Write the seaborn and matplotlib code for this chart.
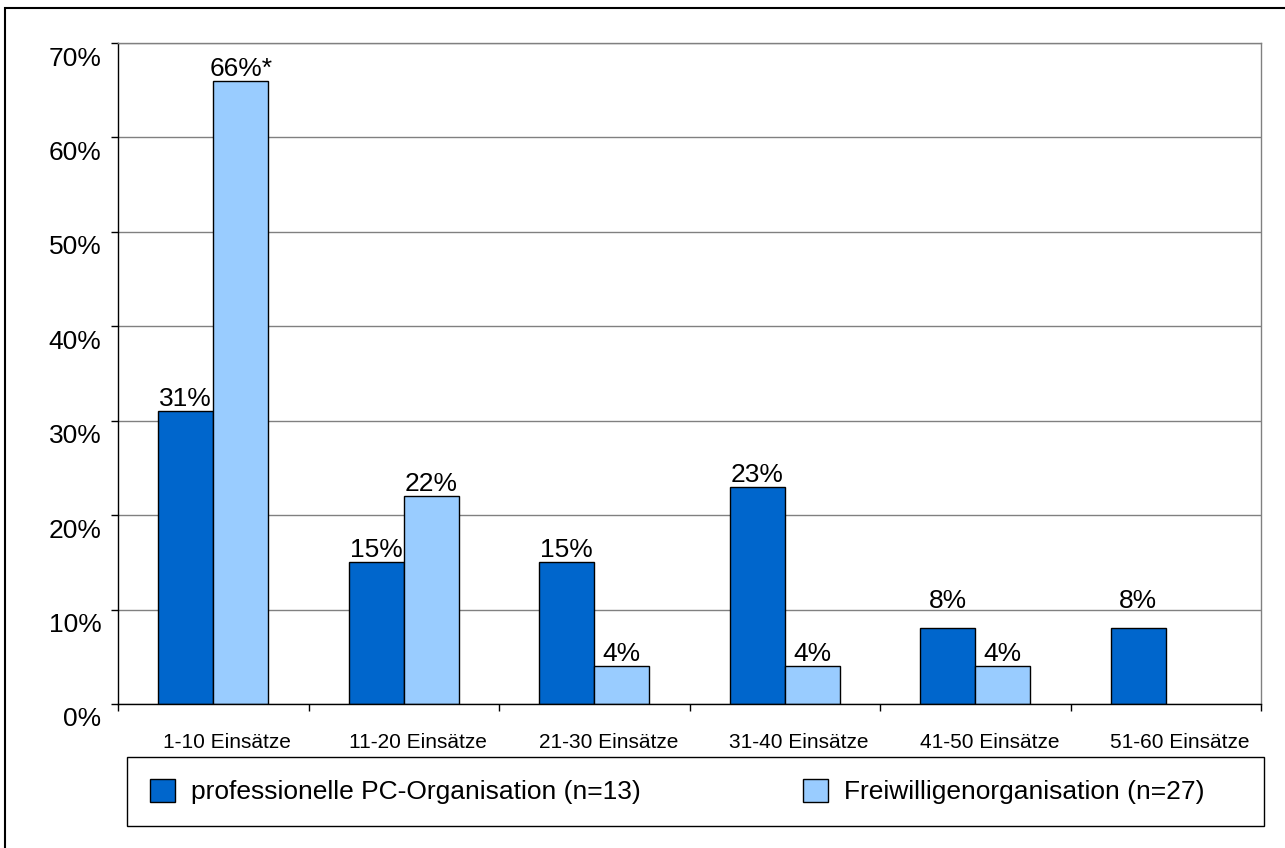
import matplotlib
matplotlib.use("Agg")
import matplotlib.pyplot as plt
import matplotlib.transforms as mtransforms
from matplotlib.patches import Rectangle
from matplotlib.ticker import FixedLocator, FuncFormatter
import pandas as pd
import seaborn as sns

# --- data -------------------------------------------------------------
categories = ["1-10 Einsätze", "11-20 Einsätze", "21-30 Einsätze",
              "31-40 Einsätze", "41-50 Einsätze", "51-60 Einsätze"]
series_names = ["professionelle PC-Organisation (n=13)",
                "Freiwilligenorganisation (n=27)"]
professionelle = [31, 15, 15, 23, 8, 8]
freiwillige = [66, 22, 4, 4, 4, None]
freiwillige_notes = ["*", "", "", "", "", ""]
professionelle_notes = ["", "", "", "", "", ""]
y_ticks = [0, 10, 20, 30, 40, 50, 60, 70]

# --- styling ----------------------------------------------------------
colors = ["#0066CC", "#99CCFF"]
label_pad_pt = 3.5
# extra lift for labels that would otherwise run into a grid line
label_lift_pt = {(0, 4): 11, (0, 5): 11}

W, H = 1285, 848

rows = []
for name, values in zip(series_names, [professionelle, freiwillige]):
    for cat, v in zip(categories, values):
        if v is not None:
            rows.append({"Kategorie": cat, "Anteil": v, "Organisation": name})
df = pd.DataFrame(rows)

sns.set_theme(style="white")
plt.rcParams["font.family"] = ["Liberation Sans", "DejaVu Sans"]
plt.rcParams["text.color"] = "black"

fig = plt.figure(figsize=(W / 100, H / 100), dpi=100)
ax = fig.add_axes([118 / W, 1 - 704 / H, 1143 / W, 661 / H])

sns.barplot(data=df, x="Kategorie", y="Anteil", hue="Organisation",
            order=categories, hue_order=series_names, palette=colors,
            saturation=1, width=0.577, gap=0, errorbar=None,
            edgecolor="black", linewidth=1, ax=ax)

ax.set_xlim(-0.5, len(categories) - 0.5)
ax.set_ylim(0, 70)
ax.set_xlabel("")
ax.set_ylabel("")

# y axis
ax.set_yticks(y_ticks)
ax.yaxis.set_major_formatter(FuncFormatter(lambda v, p: f"{v:.0f}%"))
ax.tick_params(axis="y", which="major", left=True, length=5, width=1,
               color="black", direction="out", pad=7, labelsize=19,
               labelcolor="black")
ax.yaxis.grid(True, color="#808080", linewidth=1)
ax.xaxis.grid(False)
ax.set_axisbelow(True)

# x axis: labels at centres, tick marks at category boundaries
ax.xaxis.set_minor_locator(FixedLocator([i - 0.5 for i in range(len(categories) + 1)]))
ax.tick_params(axis="x", which="major", bottom=True, length=0, pad=21,
               labelsize=15, labelcolor="black")
ax.tick_params(axis="x", which="minor", bottom=True, length=5, width=1,
               color="black", direction="out")

for side in ["left", "bottom"]:
    ax.spines[side].set_color("black")
    ax.spines[side].set_linewidth(1)
for side in ["top", "right"]:
    ax.spines[side].set_color("#808080")
    ax.spines[side].set_linewidth(1)
    ax.spines[side].set_visible(True)

# tick label offsets
y_shift = mtransforms.ScaledTranslation(0, -0.13, fig.dpi_scale_trans)
for lbl in ax.get_yticklabels():
    lbl.set_transform(lbl.get_transform() + y_shift)
x_shift = mtransforms.ScaledTranslation(0.14, 0, fig.dpi_scale_trans)
for lbl in ax.get_xticklabels():
    lbl.set_transform(lbl.get_transform() + x_shift)

# value labels above bars
all_values = [professionelle, freiwillige]
all_notes = [professionelle_notes, freiwillige_notes]
for s_idx, container in enumerate(ax.containers):
    for bar in container:
        cx = bar.get_x() + bar.get_width() / 2
        c_idx = int(round(cx))
        v = all_values[s_idx][c_idx]
        if v is None:
            continue
        pad = label_pad_pt + label_lift_pt.get((s_idx, c_idx), 0)
        ax.annotate(f"{v}%{all_notes[s_idx][c_idx]}", xy=(cx, v),
                    xytext=(0, pad), textcoords="offset points",
                    ha="center", va="baseline", fontsize=19, color="black")

# legend (box drawn separately so it spans the full width)
sns.move_legend(ax, "upper left", bbox_to_anchor=(150 / W, 1 - 779 / H),
                bbox_transform=fig.transFigure, borderaxespad=0, ncol=2,
                title=None, fontsize=19, frameon=False, handlelength=0.95,
                handleheight=0.95, handletextpad=0.6, columnspacing=6.15,
                borderpad=0)
leg = ax.get_legend()
for t in leg.get_texts():
    t.set_color("black")
for h in leg.legend_handles:
    h.set_edgecolor("black")
    h.set_linewidth(1)

fig.add_artist(Rectangle((127 / W, 1 - 826 / H), (1264 - 127) / W, 69 / H,
                         transform=fig.transFigure, fill=False,
                         edgecolor="black", linewidth=1))

# outer frame
fig.add_artist(Rectangle((5 / W, -0.05), 1.1, 1 - 8 / H + 0.05,
                         transform=fig.transFigure, fill=False,
                         edgecolor="black", linewidth=1.5))

fig.savefig("out.png", dpi=100, facecolor="white")
